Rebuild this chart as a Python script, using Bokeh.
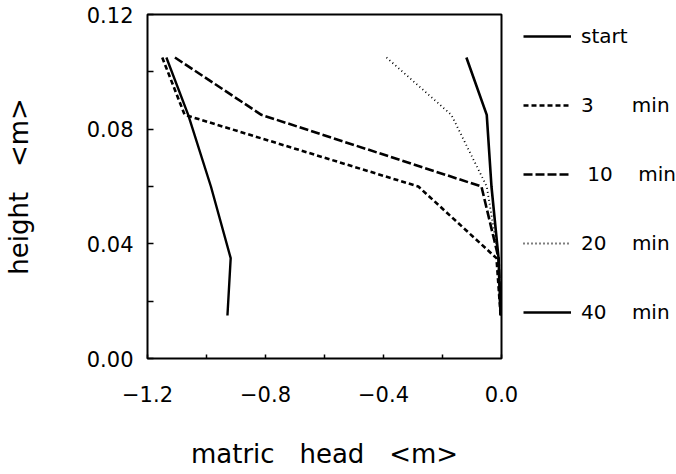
from bokeh.plotting import figure
from bokeh.models import Range1d, FixedTicker, CustomJSTickFormatter, Legend, LegendItem
from bokeh.embed import file_html
from bokeh.resources import INLINE

# sensor heights (m)
heights = [0.105, 0.085, 0.06, 0.035, 0.015]
# matric head (m) per time
start = [-1.136, -1.062, -0.985, -0.918, -0.929]
min3 = [-1.150, -1.074, -0.282, -0.017, -0.003]
min10 = [-1.107, -0.814, -0.068, -0.010, -0.003]
min20 = [-0.390, -0.170, -0.050, -0.010, -0.003]
min40 = [-0.119, -0.050, -0.034, -0.010, -0.003]

labels = ["start", "3\u00a0\u00a0\u00a0\u00a0\u00a0\u00a0min", "\u00a010\u00a0\u00a0\u00a0\u00a0min",
          "20\u00a0\u00a0\u00a0\u00a0min", "40\u00a0\u00a0\u00a0\u00a0min"]
x_ticks = [-1.2, -0.8, -0.4, 0.0]
x_minor = [-1.0, -0.6, -0.2]
y_ticks = [0.0, 0.04, 0.08, 0.12]
y_minor = [0.02, 0.06, 0.10]

FONT = "DejaVu Sans"

p = figure(frame_width=354, frame_height=344, output_backend="svg", toolbar_location=None,
           x_range=Range1d(-1.2, 0.0), y_range=Range1d(0.0, 0.12),
           min_border_left=146, min_border_right=0, min_border_top=14, min_border_bottom=116)
p.grid.visible = False
p.outline_line_color = "black"
p.outline_line_width = 2
p.background_fill_color = "white"
p.border_fill_color = "white"

series = [start, min3, min10, min20, min40]
dashes = ["solid", "5 3", "9 3", "1 3", "solid"]
widths = [2.4, 2.6, 2.6, 1.8, 2.6]
renderers = []
for vals, d, w in zip(series, dashes, widths):
    r = p.line(vals, heights, line_color="black", line_width=w, line_dash=d)
    renderers.append(r)

p.xaxis.ticker = FixedTicker(ticks=x_ticks, minor_ticks=x_minor)
p.yaxis.ticker = FixedTicker(ticks=y_ticks, minor_ticks=y_minor)
p.xaxis.formatter = CustomJSTickFormatter(code="return (tick < -1e-9 ? '\u2212' : '') + Math.abs(tick).toFixed(1);")
p.yaxis.formatter = CustomJSTickFormatter(code="return tick.toFixed(2);")

for ax in (p.xaxis[0], p.yaxis[0]):
    ax.axis_line_color = None
    ax.major_tick_out = 0
    ax.minor_tick_out = 0
    ax.major_tick_line_color = "black"
    ax.minor_tick_line_color = "black"
    ax.major_tick_line_width = 1.5
    ax.minor_tick_line_width = 1.5
    ax.major_label_text_font = FONT
    ax.major_label_text_font_size = "21px"
    ax.major_label_text_color = "black"
    ax.axis_label_text_font = FONT
    ax.axis_label_text_font_style = "normal"
    ax.axis_label_text_color = "black"
    ax.axis_label_text_font_size = "26px"

p.xaxis.major_tick_in = 4
p.xaxis.minor_tick_in = 4
p.yaxis.major_tick_in = 6
p.yaxis.minor_tick_in = 6
p.xaxis.major_label_standoff = 27
p.yaxis.major_label_standoff = 14
p.xaxis.axis_label = "matric\u00a0\u00a0\u00a0head\u00a0\u00a0\u00a0<m>"
p.yaxis.axis_label = "height\u00a0\u00a0\u00a0<m>"
p.xaxis.axis_label_standoff = 34
p.yaxis.axis_label_standoff = 50

items = [LegendItem(label=l, renderers=[r]) for l, r in zip(labels, renderers)]
legend = Legend(items=items, location=(22, 34), orientation="vertical",
                background_fill_alpha=0, border_line_alpha=0, padding=0, margin=0,
                spacing=45, glyph_width=48, glyph_height=24, label_height=24,
                label_standoff=10, label_text_font=FONT, label_text_font_size="20px",
                label_text_color="black")
p.add_layout(legend, "right")
p.min_border_right = 10

open("out.html", "w").write(file_html(p, INLINE))
